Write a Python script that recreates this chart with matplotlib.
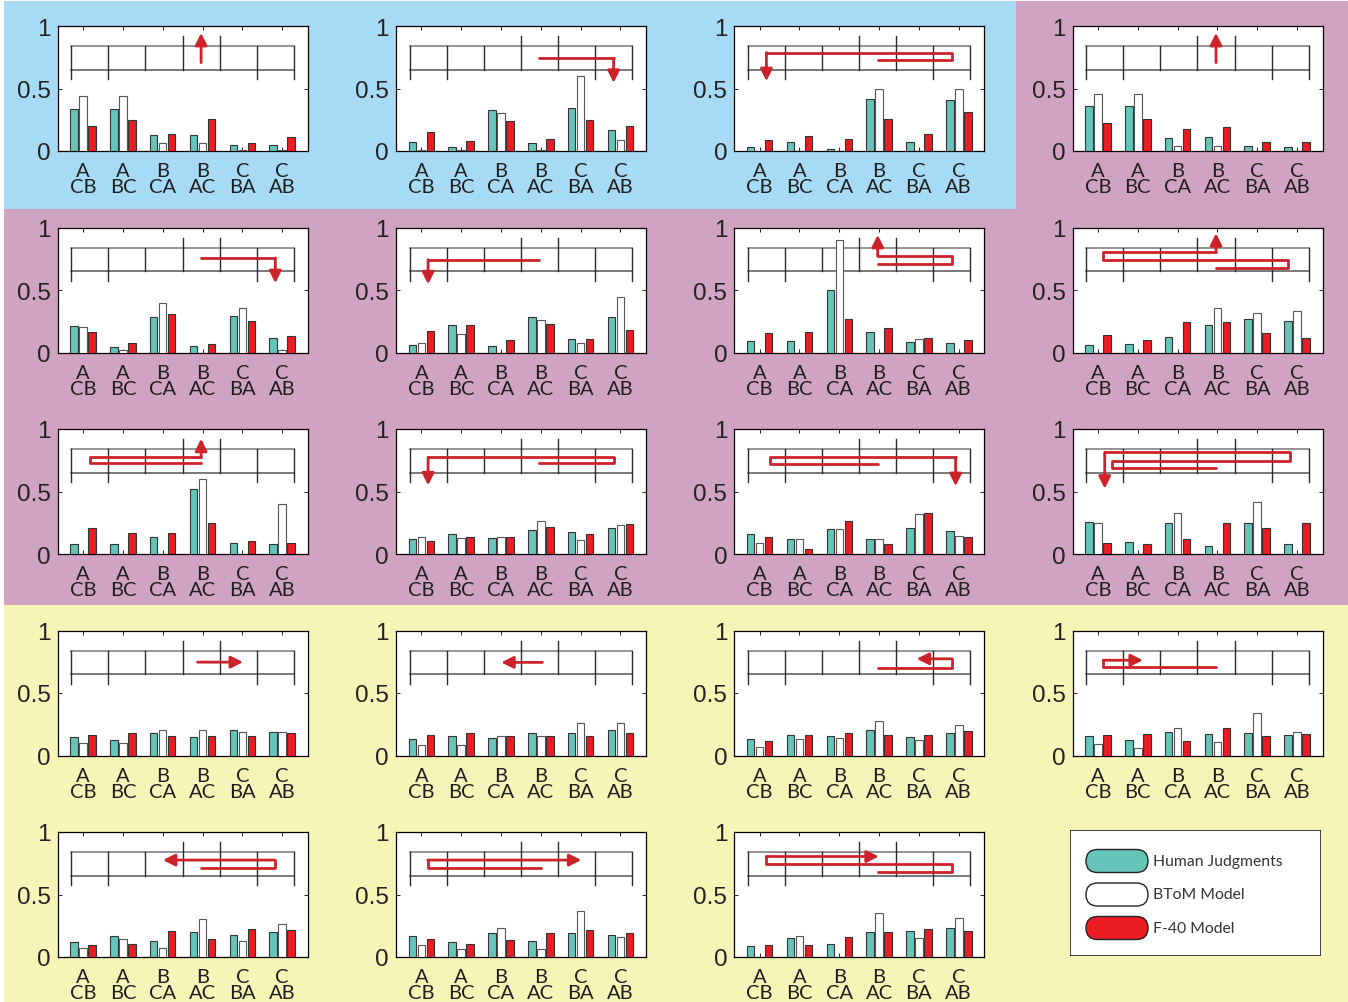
import matplotlib.pyplot as plt
from matplotlib.patches import Rectangle, FancyBboxPatch

W, H = 1348, 1003

groups = ['A\nCB', 'A\nBC', 'B\nCA', 'B\nAC', 'C\nBA', 'C\nAB']
series_names = ['Human Judgments', 'BToM Model', 'F-40 Model']

# one row per trial, one value per goal ordering
human = [
    [0.334, 0.334, 0.126, 0.126, 0.048, 0.050],
    [0.075, 0.032, 0.330, 0.067, 0.345, 0.166],
    [0.030, 0.072, 0.020, 0.415, 0.072, 0.410],
    [0.360, 0.358, 0.107, 0.112, 0.040, 0.035],
    [0.211, 0.048, 0.286, 0.050, 0.289, 0.118],
    [0.059, 0.219, 0.056, 0.281, 0.107, 0.283],
    [0.091, 0.091, 0.500, 0.163, 0.086, 0.078],
    [0.064, 0.067, 0.128, 0.219, 0.267, 0.254],
    [0.083, 0.083, 0.139, 0.519, 0.088, 0.083],
    [0.123, 0.163, 0.131, 0.195, 0.179, 0.209],
    [0.163, 0.118, 0.200, 0.123, 0.206, 0.185],
    [0.257, 0.099, 0.246, 0.062, 0.251, 0.083],
    [0.152, 0.123, 0.182, 0.147, 0.203, 0.190],
    [0.134, 0.158, 0.144, 0.179, 0.179, 0.203],
    [0.134, 0.163, 0.155, 0.203, 0.152, 0.184],
    [0.160, 0.126, 0.187, 0.174, 0.184, 0.166],
    [0.120, 0.166, 0.131, 0.203, 0.179, 0.198],
    [0.168, 0.120, 0.195, 0.128, 0.195, 0.179],
    [0.088, 0.150, 0.104, 0.200, 0.211, 0.233],
]
btom = [
    [0.440, 0.440, 0.067, 0.067, 0.010, 0.010],
    [0.005, 0.005, 0.305, 0.005, 0.600, 0.088],
    [0.000, 0.000, 0.000, 0.500, 0.000, 0.500],
    [0.460, 0.460, 0.043, 0.043, 0.000, 0.000],
    [0.203, 0.024, 0.393, 0.000, 0.358, 0.024],
    [0.075, 0.147, 0.000, 0.259, 0.075, 0.444],
    [0.000, 0.000, 0.900, 0.000, 0.107, 0.000],
    [0.000, 0.000, 0.000, 0.356, 0.316, 0.332],
    [0.000, 0.000, 0.000, 0.600, 0.000, 0.398],
    [0.134, 0.126, 0.134, 0.262, 0.110, 0.230],
    [0.088, 0.118, 0.203, 0.118, 0.324, 0.147],
    [0.249, 0.000, 0.332, 0.000, 0.417, 0.000],
    [0.104, 0.104, 0.206, 0.203, 0.187, 0.190],
    [0.086, 0.086, 0.155, 0.155, 0.262, 0.262],
    [0.072, 0.134, 0.139, 0.278, 0.126, 0.246],
    [0.091, 0.059, 0.217, 0.107, 0.340, 0.187],
    [0.075, 0.147, 0.075, 0.302, 0.128, 0.267],
    [0.096, 0.067, 0.233, 0.067, 0.366, 0.163],
    [0.000, 0.171, 0.000, 0.356, 0.152, 0.316],
]
f40 = [
    [0.200, 0.246, 0.134, 0.254, 0.067, 0.115],
    [0.150, 0.078, 0.243, 0.094, 0.250, 0.198],
    [0.086, 0.118, 0.100, 0.257, 0.140, 0.310],
    [0.227, 0.260, 0.176, 0.195, 0.072, 0.075],
    [0.166, 0.078, 0.310, 0.070, 0.254, 0.134],
    [0.171, 0.219, 0.099, 0.230, 0.107, 0.182],
    [0.158, 0.168, 0.267, 0.195, 0.115, 0.102],
    [0.139, 0.102, 0.246, 0.243, 0.158, 0.115],
    [0.211, 0.166, 0.171, 0.251, 0.107, 0.091],
    [0.107, 0.134, 0.139, 0.219, 0.160, 0.238],
    [0.139, 0.043, 0.267, 0.083, 0.332, 0.139],
    [0.091, 0.078, 0.123, 0.251, 0.206, 0.251],
    [0.163, 0.179, 0.155, 0.158, 0.158, 0.179],
    [0.163, 0.179, 0.158, 0.160, 0.158, 0.179],
    [0.118, 0.168, 0.179, 0.168, 0.168, 0.195],
    [0.163, 0.171, 0.115, 0.222, 0.158, 0.174],
    [0.099, 0.102, 0.209, 0.142, 0.225, 0.214],
    [0.142, 0.107, 0.136, 0.193, 0.214, 0.195],
    [0.099, 0.099, 0.158, 0.198, 0.227, 0.211],
]

# agent trajectories in maze cell units (u: cell, v: 0 = lower wall, 1 = upper wall)
paths = [
    [(3.5, 0.30), (3.5, 1.55)],
    [(3.5, 0.49), (5.5, 0.49), (5.5, -0.55)],
    [(3.5, 0.39), (5.5, 0.39), (5.5, 0.72), (0.5, 0.72), (0.5, -0.48)],
    [(3.5, 0.30), (3.5, 1.55)],
    [(3.5, 0.56), (5.5, 0.56), (5.5, -0.50)],
    [(3.5, 0.49), (0.5, 0.49), (0.5, -0.55)],
    [(3.5, 0.31), (5.5, 0.31), (5.5, 0.63), (3.5, 0.63), (3.5, 1.53)],
    [(3.5, 0.14), (5.45, 0.14), (5.45, 0.47), (0.45, 0.47), (0.45, 0.83), (3.5, 0.83), (3.5, 1.60)],
    [(3.5, 0.39), (0.5, 0.39), (0.5, 0.65), (3.5, 0.65), (3.5, 1.43)],
    [(3.5, 0.39), (5.5, 0.39), (5.5, 0.65), (0.5, 0.65), (0.5, -0.53)],
    [(3.5, 0.36), (0.6, 0.36), (0.6, 0.65), (5.6, 0.65), (5.6, -0.56)],
    [(3.5, 0.19), (0.7, 0.19), (0.7, 0.51), (5.5, 0.51), (5.5, 0.86), (0.5, 0.86), (0.5, -0.67)],
    [(3.4, 0.51), (4.63, 0.51)],
    [(3.58, 0.50), (2.47, 0.50)],
    [(3.5, 0.26), (5.5, 0.26), (5.5, 0.65), (4.55, 0.65)],
    [(3.5, 0.30), (0.46, 0.30), (0.46, 0.59), (1.53, 0.59)],
    [(3.5, 0.34), (5.49, 0.34), (5.49, 0.66), (2.47, 0.66)],
    [(3.55, 0.34), (0.49, 0.34), (0.49, 0.66), (4.63, 0.66)],
    [(3.5, 0.16), (5.5, 0.16), (5.5, 0.49), (0.49, 0.49), (0.49, 0.81), (3.53, 0.81)],
]

TEAL = '#66c5b9'
RED = '#ec1c24'
PATH_RED = '#cc2229'
BLUE_BG = '#a7dbf5'
PURPLE_BG = '#d1a3c3'
YELLOW_BG = '#f7f4b8'

# maze geometry in data coords
MX0, CW = 0.703, 0.932
VB, VT = 0.65, 0.84
wall_lo = [-0.4, -0.4, 0, 0, 0, -0.4, -0.4]
wall_hi = [1, 1, 1, 1.42, 1.42, 1, 1]


def maze_xy(u, v):
    return MX0 + u * CW, VB + v * (VT - VB)


def px_rect(x0, y0, x1, y1):
    return [x0 / W, 1 - y1 / H, (x1 - x0) / W, (y1 - y0) / H]


fig = plt.figure(figsize=(W / 100, H / 100), dpi=100)

# coloured condition backgrounds
for (x0, y0, x1, y1), col in [((4, 2, 1016, 210), BLUE_BG),
                              ((1016, 2, W, 210), PURPLE_BG),
                              ((4, 210, W, 606), PURPLE_BG),
                              ((4, 606, W, H), YELLOW_BG)]:
    l, b, w, h = px_rect(x0, y0, x1, y1)
    fig.add_artist(Rectangle((l, b), w, h, transform=fig.transFigure,
                             facecolor=col, edgecolor='none', zorder=-5))

xs = list(range(1, 7))
bw = 0.19
off = 0.226

for i in range(19):
    row, col = divmod(i, 4)
    left = 57.6 + 338.3 * col
    top = 27 + 201.5 * row
    ax = fig.add_axes(px_rect(left, top, left + 250, top + 125))
    ax.set_facecolor('white')

    ax.bar([x - off for x in xs], human[i], bw, color=TEAL, edgecolor='#333333', lw=0.8, zorder=3)
    ax.bar(xs, btom[i], bw, color='white', edgecolor='#555555', lw=0.8, zorder=3)
    ax.bar([x + off for x in xs], f40[i], bw, color=RED, edgecolor='#333333', lw=0.8, zorder=3)

    # maze walls
    ax.plot([maze_xy(0, 1)[0], maze_xy(6, 1)[0]], [VT, VT], color='#777777', lw=1.1, zorder=2)
    ax.plot([maze_xy(0, 0)[0], maze_xy(6, 0)[0]], [VB, VB], color='#555555', lw=1.1, zorder=2)
    for k in range(7):
        xk, ylo = maze_xy(k, wall_lo[k])
        _, yhi = maze_xy(k, wall_hi[k])
        ax.plot([xk, xk], [ylo, yhi], color='#2a2a2a', lw=1.0, zorder=2)

    # agent path with arrow head on last leg
    pts = [maze_xy(u, v) for u, v in paths[i]]
    if len(pts) > 2:
        ax.plot([p[0] for p in pts[:-1]], [p[1] for p in pts[:-1]], color=PATH_RED,
                lw=2.0, solid_joinstyle='round', solid_capstyle='round', zorder=4)
    ax.annotate('', xy=pts[-1], xytext=pts[-2],
                arrowprops=dict(arrowstyle='-|>,head_length=0.4,head_width=0.2',
                                mutation_scale=18, color=PATH_RED, lw=2.0,
                                shrinkA=0, shrinkB=0), zorder=4)

    ax.set_xlim(0.36, 6.64)
    ax.set_ylim(0, 1)
    ax.set_yticks([0, 0.5, 1])
    ax.set_yticklabels(['0', '0.5', '1'], fontsize=17.5, family='Liberation Sans', color='#222222')
    ax.set_xticks(xs)
    ax.set_xticklabels(groups, fontsize=14.5, family='Lato', linespacing=0.93, color='#1e1e1e')
    ax.tick_params(direction='in', length=3, width=0.6, top=True, right=True)
    ax.tick_params(axis='y', pad=5)
    ax.tick_params(axis='x', pad=8)
    for s in ax.spines.values():
        s.set_linewidth(0.9)

# legend panel
lax = fig.add_axes(px_rect(1070, 831, 1321, 957))
lax.set_xlim(0, 251)
lax.set_ylim(126, 0)
lax.axis('off')
lax.add_patch(Rectangle((0, 0), 251, 126, facecolor='white', edgecolor='#222222', lw=1.2))
for name, face, yc in zip(series_names, [TEAL, 'white', RED], [31, 64.5, 98]):
    lax.add_patch(FancyBboxPatch((16, yc - 11.5), 62, 23,
                                 boxstyle='round,pad=0,rounding_size=11.5',
                                 facecolor=face, edgecolor='#222222', lw=1.0))
    lax.text(83, yc, name, fontsize=11.3, family='Lato', color='#333333', va='center')

fig.savefig('out.png', dpi=100)
